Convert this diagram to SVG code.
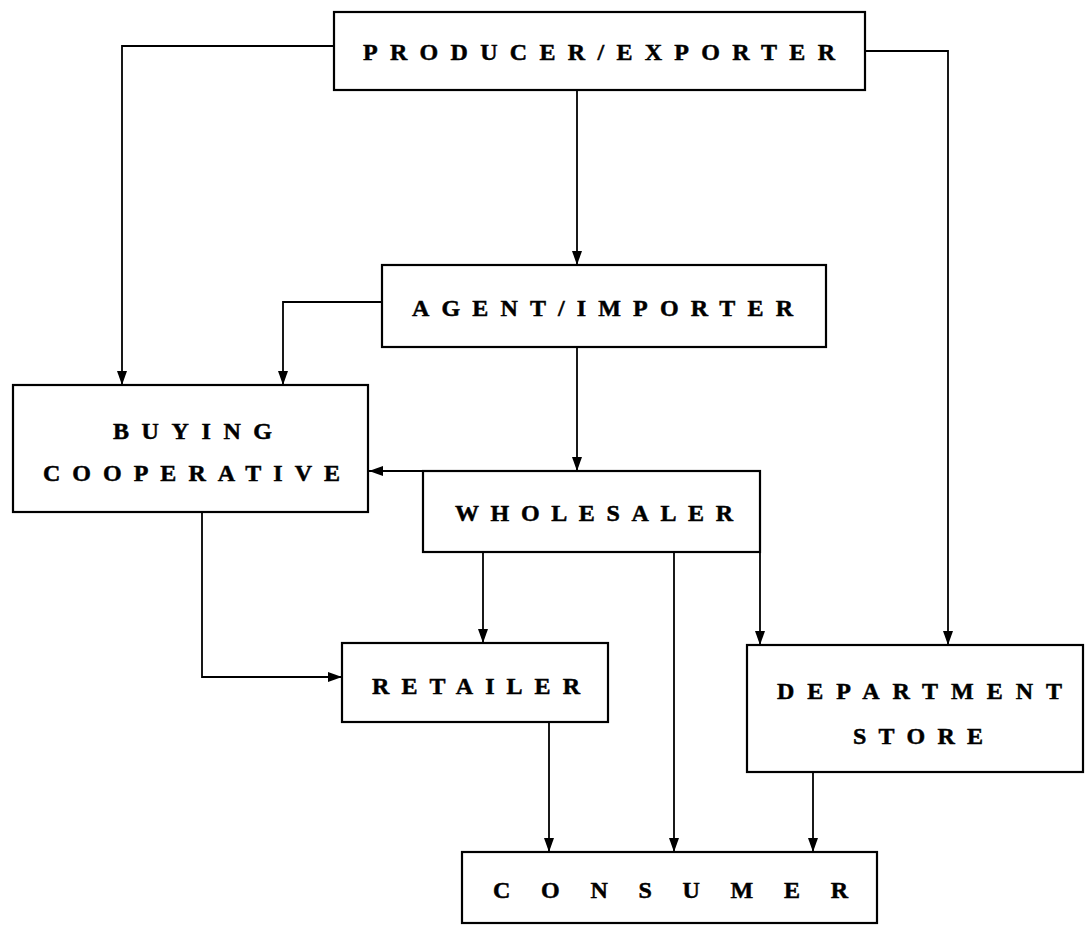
<svg xmlns="http://www.w3.org/2000/svg" width="1085" height="926" viewBox="0 0 1085 926">
<style>
.box{fill:none;stroke:#000;stroke-width:2.2}
.lbl{font-family:"Liberation Serif","DejaVu Serif",serif;font-weight:bold;font-size:24px;fill:#000;stroke:#000;stroke-width:0.5}
.con path{fill:none;stroke:#000;stroke-width:1.8}
</style>
<defs>
<marker id="ah" markerUnits="userSpaceOnUse" markerWidth="14" markerHeight="14" viewBox="0 0 14 14" refX="14" refY="7" orient="auto">
<path d="M0,2 L14,7 L0,12 Z" fill="#000"/>
</marker>
</defs>
<rect width="1085" height="926" fill="#fff"/>
<g class="con">
<path d="M333,46 H122 V385" marker-end="url(#ah)"/>
<path d="M865,51 H948 V645" marker-end="url(#ah)"/>
<path d="M577,90 V265" marker-end="url(#ah)"/>
<path d="M382,302 H283 V385" marker-end="url(#ah)"/>
<path d="M577,347 V471" marker-end="url(#ah)"/>
<path d="M423,471 H369" marker-end="url(#ah)"/>
<path d="M760,471 V645" marker-end="url(#ah)"/>
<path d="M483,552 V643" marker-end="url(#ah)"/>
<path d="M202,512 V677 H342" marker-end="url(#ah)"/>
<path d="M674,552 V852" marker-end="url(#ah)"/>
<path d="M549,722 V852" marker-end="url(#ah)"/>
<path d="M813,772 V852" marker-end="url(#ah)"/>
</g>
<g id="producer">
<rect class="box" x="334" y="12" width="531" height="78"/>
<text class="lbl" x="363" y="60" textLength="472" lengthAdjust="spacing">PRODUCER/EXPORTER</text>
</g>
<g id="agent">
<rect class="box" x="382" y="265" width="444" height="82"/>
<text class="lbl" x="412" y="316" textLength="381" lengthAdjust="spacing">AGENT/IMPORTER</text>
</g>
<g id="coop">
<rect class="box" x="13" y="385" width="355" height="127"/>
<text class="lbl" x="113" y="439" textLength="159" lengthAdjust="spacing">BUYING</text>
<text class="lbl" x="43" y="481" textLength="297" lengthAdjust="spacing">COOPERATIVE</text>
</g>
<g id="wholesaler">
<rect class="box" x="423" y="471" width="337" height="81"/>
<text class="lbl" x="455" y="521" textLength="278" lengthAdjust="spacing">WHOLESALER</text>
</g>
<g id="retailer">
<rect class="box" x="342" y="643" width="266" height="79"/>
<text class="lbl" x="372" y="694" textLength="208" lengthAdjust="spacing">RETAILER</text>
</g>
<g id="department">
<rect class="box" x="747" y="645" width="336" height="127"/>
<text class="lbl" x="777" y="699" textLength="285" lengthAdjust="spacing">DEPARTMENT</text>
<text class="lbl" x="853" y="744" textLength="130" lengthAdjust="spacing">STORE</text>
</g>
<g id="consumer">
<rect class="box" x="462" y="852" width="415" height="71"/>
<text class="lbl" x="493" y="898" textLength="355" lengthAdjust="spacing">CONSUMER</text>
</g>
</svg>
